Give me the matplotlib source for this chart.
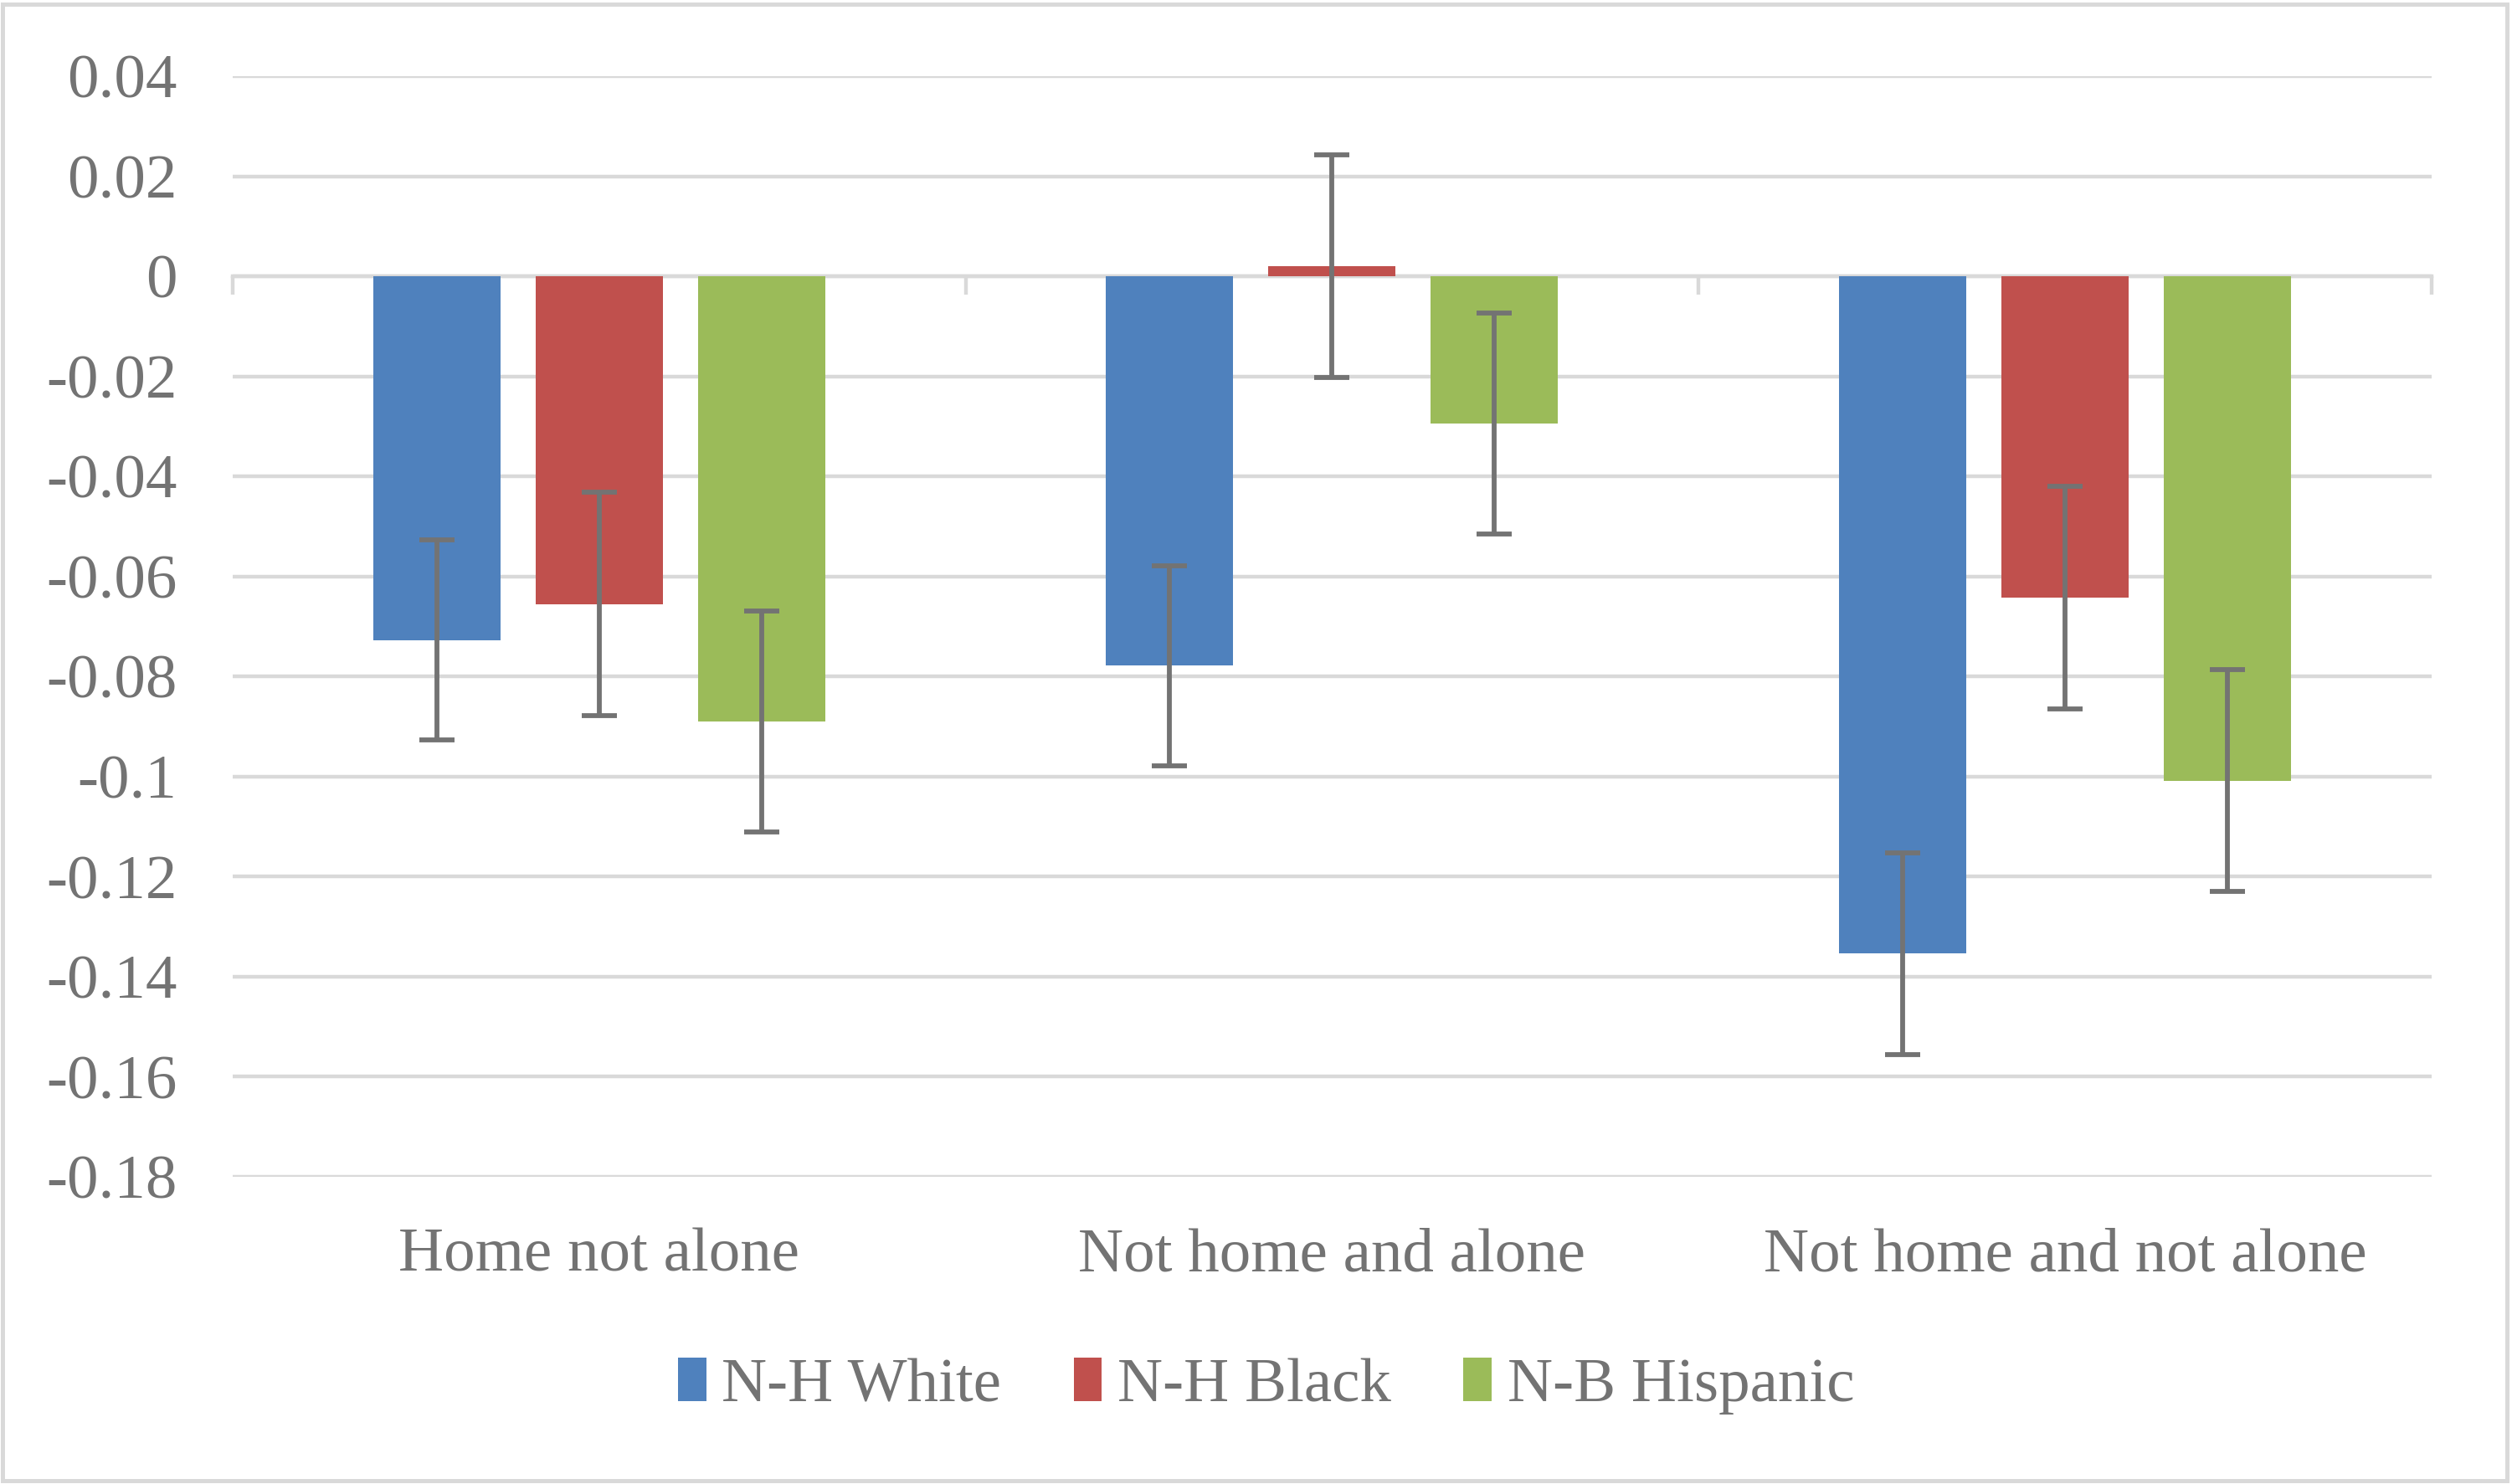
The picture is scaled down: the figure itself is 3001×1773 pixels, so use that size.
import matplotlib.pyplot as plt
import numpy as np
from matplotlib.patches import Rectangle

categories = ["Home not alone", "Not home and alone", "Not home and not alone"]
groups = ["N-H White", "N-H Black", "N-B Hispanic"]
white = [-0.0727, -0.0778, -0.1354]
black = [-0.0655, 0.0020, -0.0642]
hispanic = [-0.0890, -0.0295, -0.1008]
white_err = [0.0200, 0.0200, 0.0201]
black_err = [0.0223, 0.0222, 0.0223]
hispanic_err = [0.0221, 0.0221, 0.0221]
y_ticks = [0.04, 0.02, 0, -0.02, -0.04, -0.06, -0.08, -0.1, -0.12, -0.14, -0.16, -0.18]

colors = ["#4F81BD", "#C0504D", "#9BBB59"]
text_color = "#737373"
grid_color = "#D9D9D9"

plt.rcParams["font.family"] = ["Liberation Serif", "DejaVu Serif"]

fig = plt.figure(figsize=(15.005, 8.865), dpi=200)
ax = fig.add_axes([0.0926, 0.2070, 0.968 - 0.0926, 0.9487 - 0.2070])

x = np.arange(len(categories))
pitch = 0.2215
width = 0.1736
series = [(white, white_err), (black, black_err), (hispanic, hispanic_err)]
for k, (vals, errs) in enumerate(series):
    pos = x + (k - 1) * pitch
    ax.bar(pos, vals, width=width, color=colors[k], label=groups[k], zorder=2)
    ax.errorbar(pos, vals, yerr=errs, fmt="none", ecolor="#737373",
                elinewidth=2.1, capsize=7.4, capthick=2.1, zorder=3)

ax.set_xlim(-0.5, len(categories) - 0.5)
ax.set_ylim(-0.18, 0.04)
ax.set_yticks(y_ticks)
ax.set_yticklabels([f"{t:g}" for t in y_ticks])
for t in y_ticks:
    ax.axhline(t, color=grid_color, linewidth=1.6, zorder=1)

ax.set_xticks(x)
ax.set_xticklabels(categories)
ax.tick_params(axis="both", length=0, labelsize=27, colors=text_color)
ax.tick_params(axis="y", pad=24)
ax.tick_params(axis="x", pad=22)
for s in ax.spines.values():
    s.set_visible(False)

# category axis line at zero with boundary ticks pointing down
sec = ax.secondary_xaxis((0 - (-0.18)) / 0.22)
sec.set_xticks(np.arange(-0.5, len(categories), 1.0))
sec.set_xticklabels([])
sec.tick_params(direction="in", length=8, width=1.6, color=grid_color)
for s in sec.spines.values():
    s.set_color(grid_color)
    s.set_linewidth(1.6)
sec.set_zorder(1)

leg = fig.legend(loc="center", bbox_to_anchor=(0.504, 0.066), ncol=3,
                 frameon=False, fontsize=27, handlelength=0.45, handleheight=0.7,
                 handletextpad=0.25, columnspacing=1.15)
for t in leg.get_texts():
    t.set_color(text_color)

fig.patches.append(Rectangle((0.001, 0.002), 0.997, 0.995, transform=fig.transFigure,
                             fill=False, edgecolor=grid_color, linewidth=1.8))

fig.savefig("out.png", dpi=200, facecolor="white")
